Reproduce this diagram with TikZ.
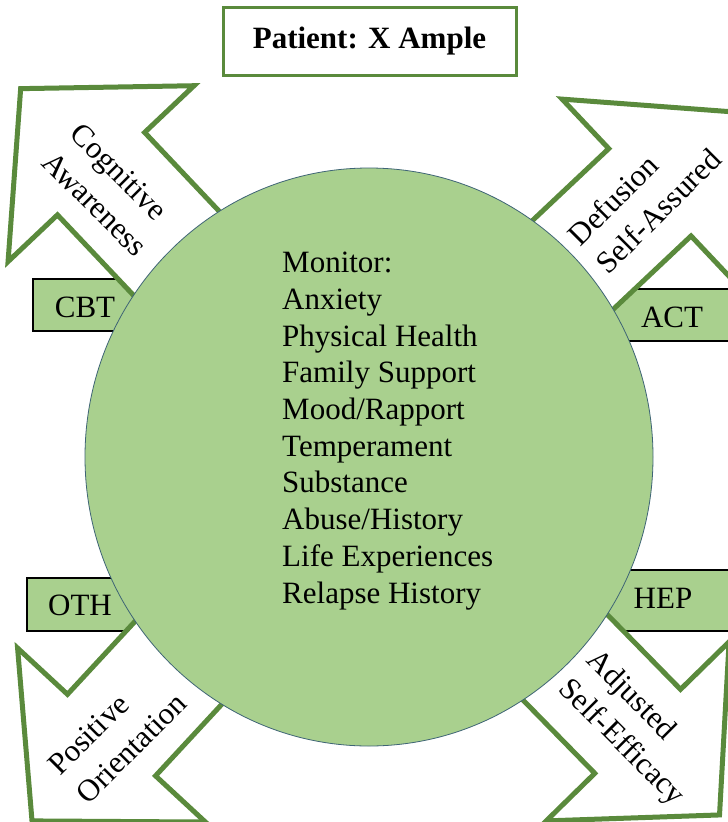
\documentclass[tikz,border=0pt]{standalone}
\usepackage{fontspec}
\setmainfont{Liberation Serif}
\definecolor{leaf}{HTML}{5A8A3C}
\definecolor{pale}{HTML}{A9D08E}
\definecolor{rim}{HTML}{3E6475}
\begin{document}
\begin{tikzpicture}[x=1pt,y=-1pt,
  bigarrow/.style={draw=leaf, line width=5pt, fill=white, line join=miter},
  tagbox/.style={draw=black, line width=1.8pt, fill=pale},
  tagtext/.style={font=\fontsize{31}{37}\selectfont, inner sep=0pt},
  lbl/.style={font=\fontsize{31}{40}\selectfont, align=left, inner sep=0pt}]
  \clip (0,0) rectangle (728,822);
  \fill[white] (0,0) rectangle (728,822);

  % side tabs
  \draw[tagbox] (33,279) rectangle (200,331);
  \draw[tagbox] (560,289) rectangle (740,341);
  \draw[tagbox] (27,578) rectangle (200,631);
  \draw[tagbox] (560,570) rectangle (740,631);

  % four block arrows pointing away from the circle
  \foreach \ang/\n in {133.4/390, 43.3/386, 227.2/379, -45.6/384}{
    \pgfmathsetmacro\tipd{\n+117}
    \begin{scope}[shift={(369,457)}, rotate=\ang]
      \draw[bigarrow] (200pt,60pt) -- (\n pt,60pt) -- (\n pt,128pt)
        -- (\tipd pt,0pt) -- (\n pt,-128pt) -- (\n pt,-60pt)
        -- (200pt,-60pt) -- cycle;
    \end{scope}
  }

  % central circle
  \draw[fill=pale, draw=rim, line width=0.8pt] (369,457) ellipse [x radius=284pt, y radius=289pt];

  % header
  \node[draw=leaf, line width=3pt, fill=white, minimum width=293pt, minimum height=68pt,
        font=\bfseries\fontsize{31}{37}\selectfont] (patient) at (369.5,41) {Patient: X Ample};

  % tab labels
  \node[tagtext] (cbt) at (85,307) {CBT};
  \node[tagtext] (act) at (672,317) {ACT};
  \node[tagtext] (oth) at (80,605) {OTH};
  \node[tagtext] (hep) at (663,598) {HEP};

  % arrow labels
  \node[lbl, rotate=-45] (cog) at (109,190) {Cognitive\\Awareness};
  \node[lbl, rotate=45] (def) at (644,197) {Defusion\\Self-Assured};
  \node[lbl, rotate=45] (pos) at (117,734) {Positive\\Orientation};
  \node[lbl, rotate=-45] (adj) at (635,729) {Adjusted\\Self-Efficacy};

  % monitored factors
  \node[font=\fontsize{31}{36.7}\selectfont, align=left, inner sep=0pt, anchor=north west]
    (monitor) at (282,252) {Monitor:\\Anxiety\\Physical Health\\Family Support\\Mood/Rapport\\Temperament\\Substance\\Abuse/History\\Life Experiences\\Relapse History};
\end{tikzpicture}
\end{document}
